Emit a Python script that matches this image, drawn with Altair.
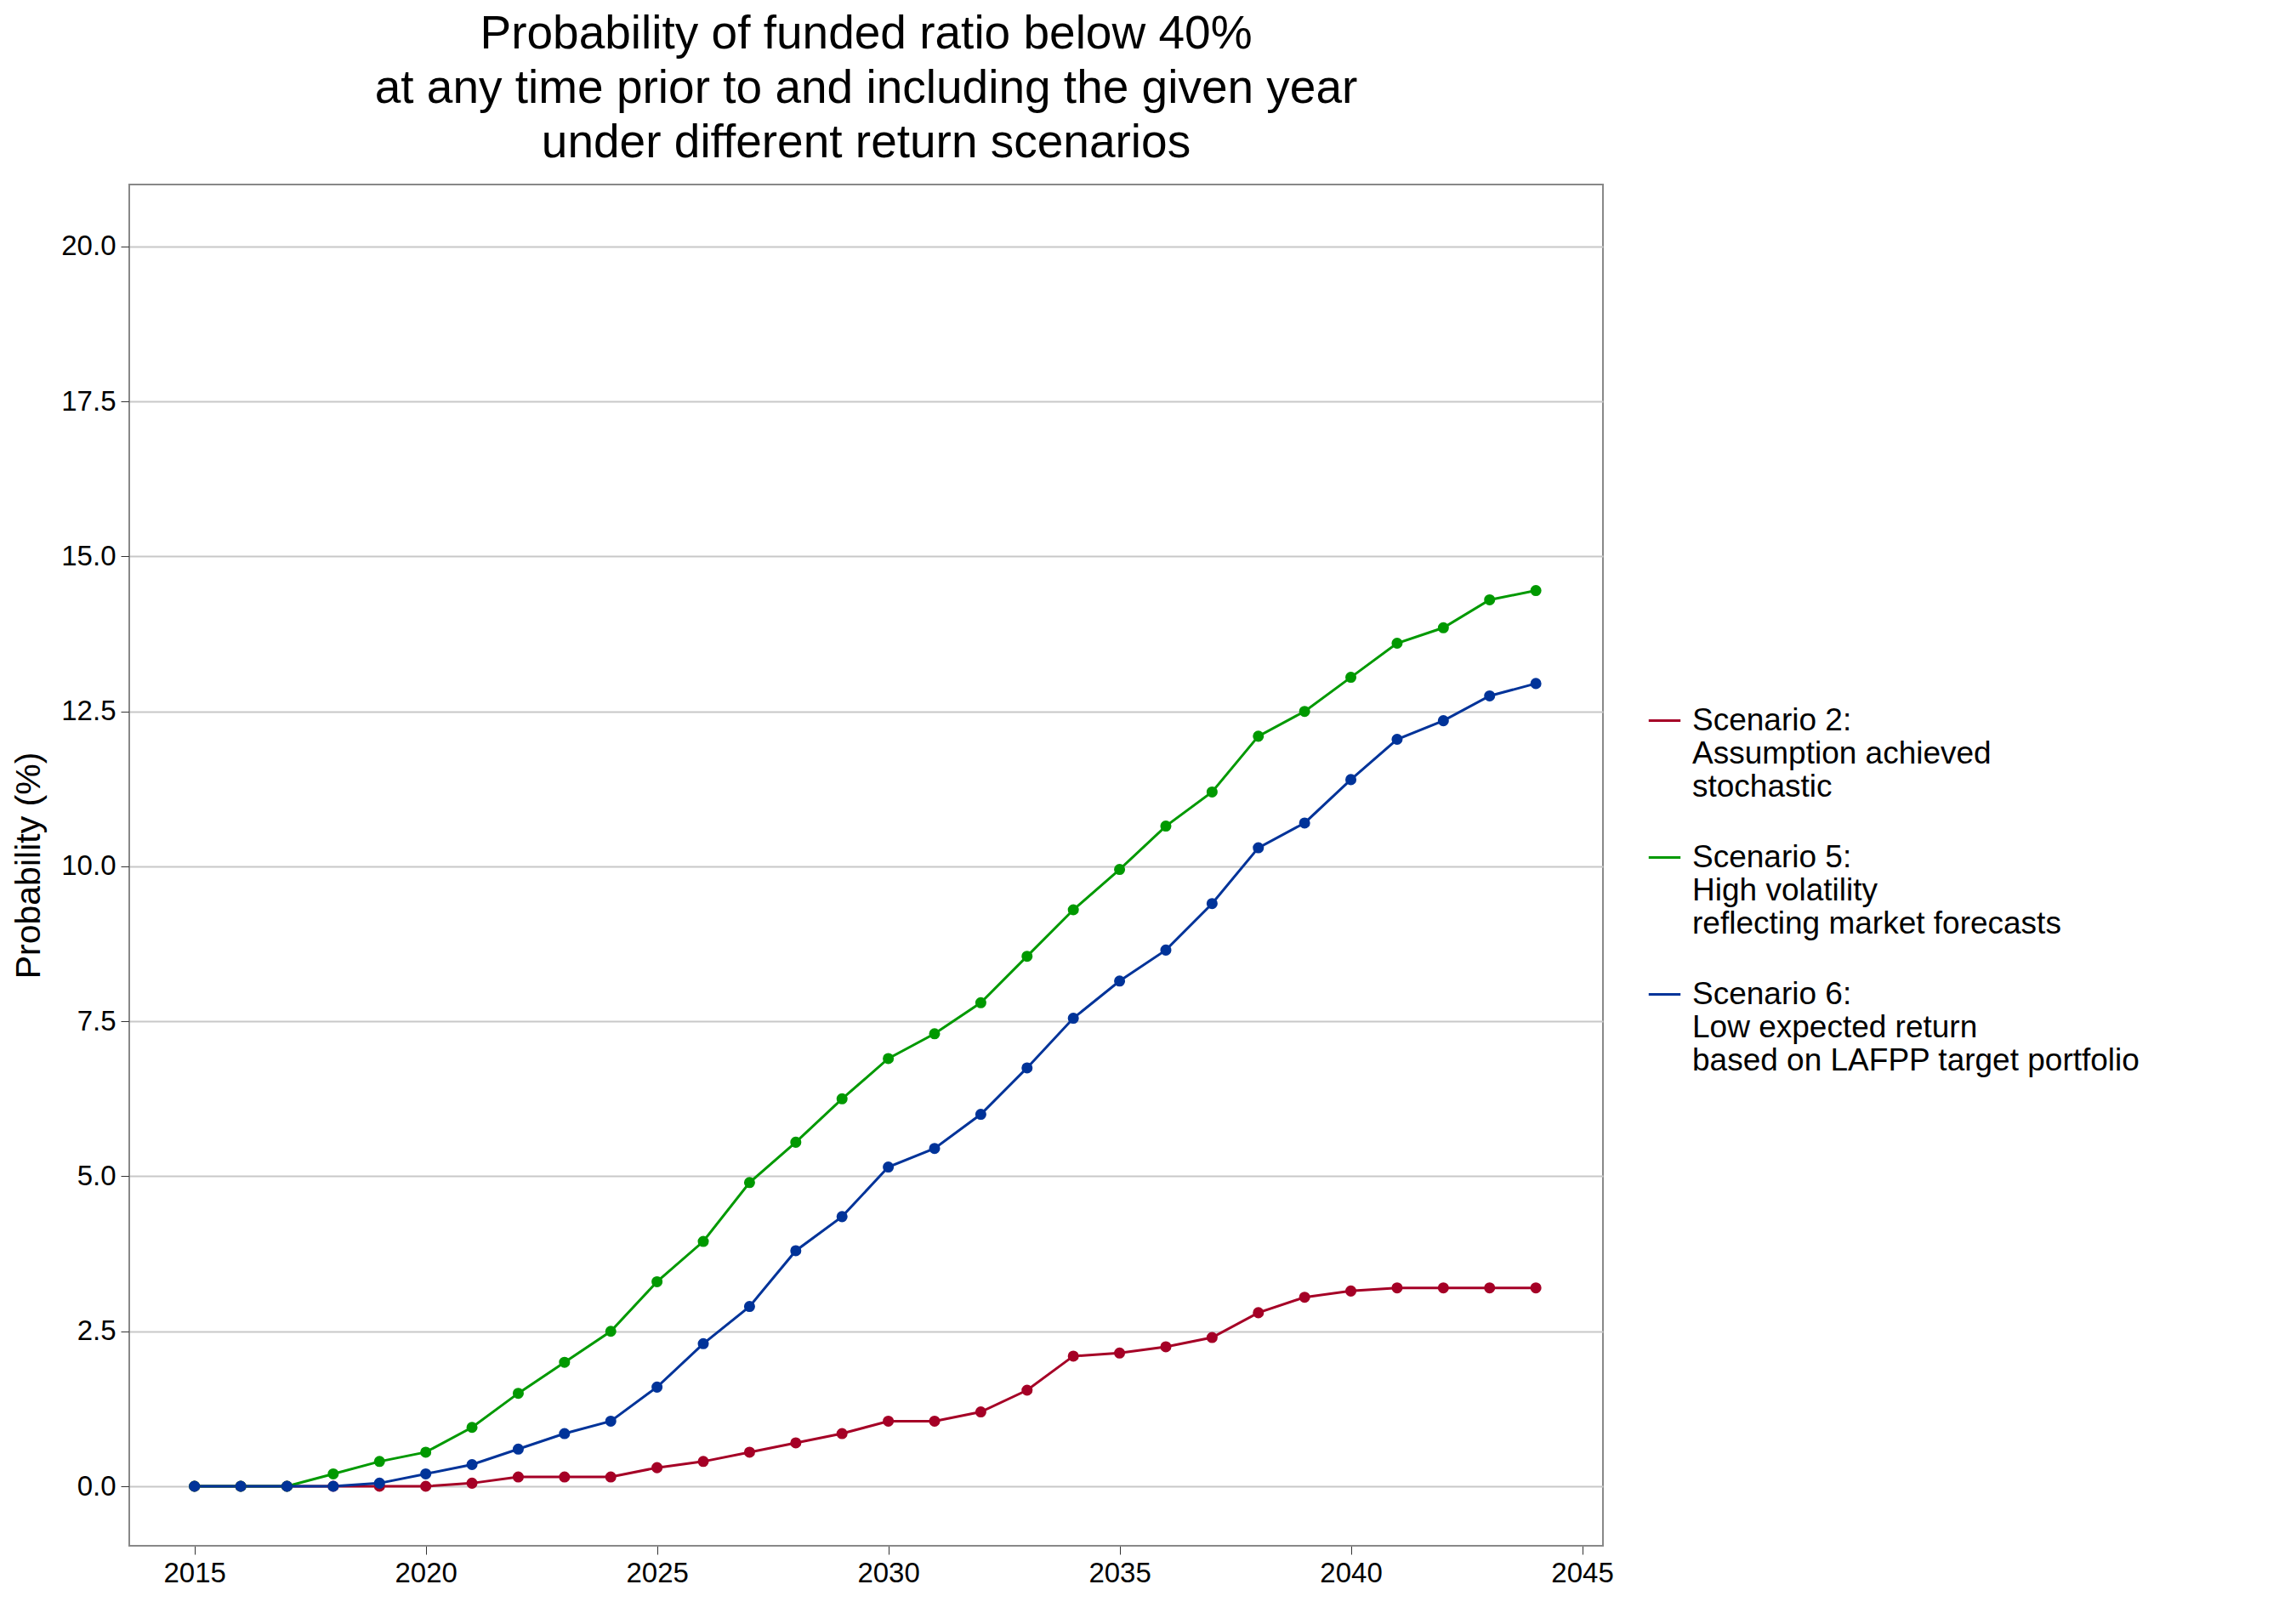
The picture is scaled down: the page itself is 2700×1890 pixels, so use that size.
import pandas as pd
import altair as alt

years = list(range(2015, 2045))

scenario2 = [0, 0, 0, 0, 0, 0, 0.05, 0.15, 0.15, 0.15, 0.3, 0.4, 0.55, 0.7, 0.85,
             1.05, 1.05, 1.2, 1.55, 2.1, 2.15, 2.25, 2.4, 2.8, 3.05, 3.15, 3.2, 3.2, 3.2, 3.2]
scenario5 = [0, 0, 0, 0.2, 0.4, 0.55, 0.95, 1.5, 2.0, 2.5, 3.3, 3.95, 4.9, 5.55, 6.25,
             6.9, 7.3, 7.8, 8.55, 9.3, 9.95, 10.65, 11.2, 12.1, 12.5, 13.05, 13.6, 13.85, 14.3, 14.45]
scenario6 = [0, 0, 0, 0, 0.05, 0.2, 0.35, 0.6, 0.85, 1.05, 1.6, 2.3, 2.9, 3.8, 4.35,
             5.15, 5.45, 6.0, 6.75, 7.55, 8.15, 8.65, 9.4, 10.3, 10.7, 11.4, 12.05, 12.35, 12.75, 12.95]

labels = [
    "Scenario 2:\nAssumption achieved\nstochastic",
    "Scenario 5:\nHigh volatility\nreflecting market forecasts",
    "Scenario 6:\nLow expected return\nbased on LAFPP target portfolio",
]
colors = ["#A50026", "#009900", "#003399"]

rows = []
for lab, vals in zip(labels, [scenario2, scenario5, scenario6]):
    for y, v in zip(years, vals):
        rows.append({"year": y, "prob": v, "scenario": lab})
df = pd.DataFrame(rows)

chart = (
    alt.Chart(df)
    .mark_line(point=alt.OverlayMarkDef(size=170, filled=True, opacity=1), strokeWidth=3)
    .encode(
        x=alt.X("year:Q", scale=alt.Scale(domain=[2013.59, 2045.45], nice=False, zero=False),
                axis=alt.Axis(title=None, values=list(range(2015, 2046, 5)), format="d",
                              grid=False, labelFontSize=33, tickSize=10, tickColor="#333",
                              domainColor="#888", labelColor="#000", labelPadding=6)),
        y=alt.Y("prob:Q", scale=alt.Scale(domain=[-0.96, 21.0], nice=False, zero=False),
                axis=alt.Axis(title="Probability (%)", values=[0, 2.5, 5, 7.5, 10, 12.5, 15, 17.5, 20],
                              format=".1f", labelFontSize=33, titleFontSize=41, titleFontWeight="normal",
                              gridColor="#C8C8C8", gridWidth=2, tickSize=10, tickColor="#333",
                              domainColor="#888", labelColor="#000", titleColor="#000",
                              labelPadding=6, titlePadding=16)),
        color=alt.Color("scenario:N", scale=alt.Scale(domain=labels, range=colors),
                        legend=alt.Legend(title=None, labelFontSize=37, labelColor="#000",
                                          labelExpr="split(datum.label, '\\n')", labelLimit=0,
                                          symbolType="stroke", symbolSize=1400, symbolStrokeWidth=3,
                                          rowPadding=44, labelOffset=12,
                                          orient="none", legendX=1785, legendY=610)),
    )
    .properties(
        width=1733, height=1601,
        title=alt.TitleParams(
            ["Probability of funded ratio below 40%",
             "at any time prior to and including the given year",
             "under different return scenarios"],
            fontSize=55, fontWeight="normal", color="#000", lineHeight=64, offset=20,
        ),
    )
    .configure(font="Liberation Sans")
    .configure_view(stroke="#888", strokeWidth=2)
)

chart.save("out.html", embed_options={"renderer": "svg", "actions": False})
